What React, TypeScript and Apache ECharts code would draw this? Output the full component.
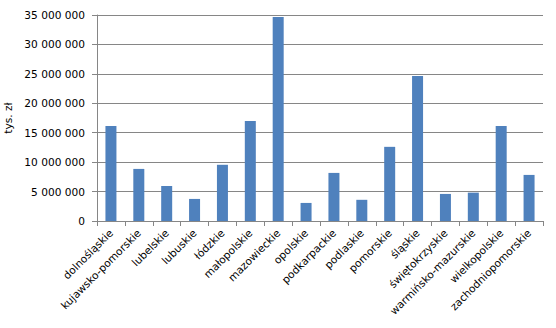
import React, { useEffect, useRef } from "react";
import * as echarts from "echarts";

const categories = [
  "dolnośląskie",
  "kujawsko-pomorskie",
  "lubelskie",
  "lubuskie",
  "łódzkie",
  "małopolskie",
  "mazowieckie",
  "opolskie",
  "podkarpackie",
  "podlaskie",
  "pomorskie",
  "śląskie",
  "świętokrzyskie",
  "warmińsko-mazurskie",
  "wielkopolskie",
  "zachodniopomorskie",
];

const values = [
  16150000, 8850000, 5950000, 3750000, 9550000, 17000000, 34650000, 3070000,
  8170000, 3600000, 12600000, 24650000, 4600000, 4820000, 16150000, 7830000,
];

const yTicks = [0, 5000000, 10000000, 15000000, 20000000, 25000000, 30000000, 35000000];

const fmt = (v: number) => String(v).replace(/\B(?=(\d{3})+(?!\d))/g, " ");

export default function App() {
  const ref = useRef<HTMLDivElement>(null);
  useEffect(() => {
    if (!ref.current) return;
    const chart = echarts.init(ref.current, undefined, { renderer: "svg" });
    const font = "DejaVu Sans";
    chart.setOption({
      animation: false,
      grid: {
        left: 97,
        top: 15,
        width: 446,
        height: 206,
        containLabel: false,
        outerBoundsMode: "none",
      },
      xAxis: {
        type: "category",
        data: categories,
        axisLine: { show: true, lineStyle: { color: "#868686", width: 1 } },
        axisTick: { show: true, length: 5, lineStyle: { color: "#868686" } },
        axisLabel: {
          rotate: 45,
          interval: 0,
          margin: 10,
          fontFamily: font,
          fontSize: 10.6,
          color: "#000",
        },
      },
      yAxis: {
        type: "value",
        min: yTicks[0],
        max: yTicks[yTicks.length - 1],
        interval: yTicks[1] - yTicks[0],
        name: "tys. zł",
        nameLocation: "middle",
        nameGap: 77,
        nameTextStyle: { fontFamily: font, fontSize: 10.6, color: "#000" },
        axisLine: { show: true, lineStyle: { color: "#868686", width: 1 } },
        axisTick: { show: true, length: 5, lineStyle: { color: "#868686" } },
        splitLine: { show: true, lineStyle: { color: "#868686", width: 1 } },
        axisLabel: {
          formatter: (v: number) => fmt(v),
          margin: 12,
          fontFamily: font,
          fontSize: 10.6,
          color: "#000",
        },
      },
      series: [
        {
          type: "bar",
          data: values,
          barWidth: 11,
          itemStyle: { color: "#4F81BD" },
        },
      ],
    });
    return () => chart.dispose();
  }, []);
  return (
    <div
      ref={ref}
      style={{ position: "fixed", left: 0, top: 0, width: 556, height: 328, background: "#fff" }}
    />
  );
}
